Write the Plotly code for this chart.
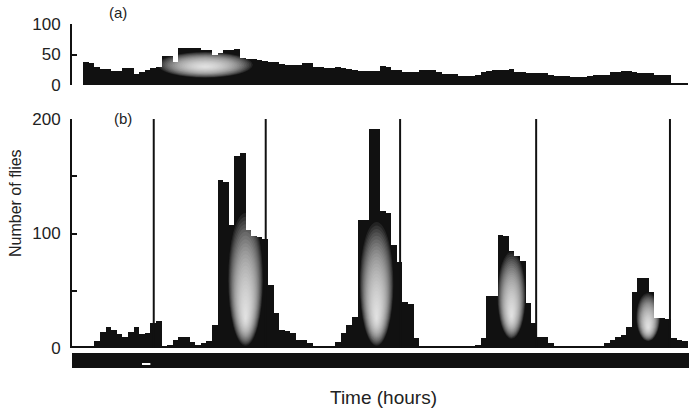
import plotly.graph_objects as go

# Hourly bins along the time axis (hours from start of recording)
hours = [h + 0.5 for h in range(110)]

# (a) flies counted per hour, control population
counts_a = [
    0, 0, 38, 36, 30, 27, 27, 23, 23, 28,
    28, 18, 22, 25, 28, 30, 48, 47, 38, 60,
    60, 61, 61, 57, 57, 50, 52, 58, 58, 59,
    45, 43, 43, 41, 39, 38, 37, 35, 33, 33,
    33, 36, 36, 30, 30, 28, 28, 30, 28, 27,
    25, 23, 23, 23, 23, 31, 30, 24, 24, 21,
    21, 21, 25, 25, 25, 22, 18, 18, 18, 15,
    15, 15, 16, 21, 23, 24, 24, 24, 27, 22,
    21, 20, 20, 20, 19, 16, 15, 15, 14, 13,
    13, 13, 14, 16, 16, 17, 21, 22, 23, 23,
    22, 20, 20, 20, 17, 16, 16, 4, 3, 3,
]

# (b) flies counted per hour, entrained population
counts_b = [
    1, 1, 1, 1, 6, 14, 18, 16, 12, 10,
    14, 18, 12, 13, 22, 24, 2, 3, 7, 10,
    10, 5, 3, 4, 6, 20, 147, 145, 107, 168,
    170, 103, 98, 97, 95, 55, 31, 16, 15, 13,
    7, 7, 4, 2, 1, 1, 2, 5, 13, 20,
    27, 112, 112, 191, 191, 120, 118, 90, 75, 40,
    38, 9, 1, 1, 1, 1, 1, 1, 1, 1,
    1, 1, 3, 9, 45, 45, 99, 98, 85, 80,
    76, 39, 22, 10, 10, 4, 2, 2, 2, 2,
    2, 2, 2, 2, 2, 4, 7, 10, 11, 18,
    49, 61, 61, 49, 26, 26, 25, 9, 7, 6,
]

# Vertical markers (hours) drawn over panel (b)
marker_hours = [14.6, 34.6, 58.6, 82.9, 106.8]

# Dark band under panel (b), in hours
band_hours = [0.0, 110.2]

x_range = [0, 110.2]
ink = "#111111"
text_col = "#222222"
font_family = "Liberation Sans, Arial, sans-serif"

fig = go.Figure()
fig.add_trace(go.Bar(x=hours, y=counts_a, width=1.0, marker=dict(color=ink, line=dict(width=0)),
                     xaxis="x", yaxis="y", showlegend=False))
fig.add_trace(go.Bar(x=hours, y=counts_b, width=1.0, marker=dict(color=ink, line=dict(width=0)),
                     xaxis="x2", yaxis="y2", showlegend=False))

shapes = []

# soft light patches inside the dense peaks (print sheen):
# outer ring is large and high, inner rings shrink toward a low bright core
glows = [
    # xref, yref, cx, cy_outer, cy_core, rx, ry
    ("x", "y", 23.8, 33, 30, 8.5, 21),
    ("x2", "y2", 31.0, 60, 26, 3.1, 58),
    ("x2", "y2", 54.4, 56, 26, 3.0, 54),
    ("x2", "y2", 78.5, 46, 28, 2.5, 38),
    ("x2", "y2", 102.9, 27, 18, 2.1, 21),
]
levels = 28
for xr, yr, cx, cy_out, cy_core, rx, ry in glows:
    for k in range(levels):
        f = 1.0 - k / levels
        cy = cy_out * f + cy_core * (1 - f)
        shapes.append(dict(type="circle", xref=xr, yref=yr,
                           x0=cx - rx * f, x1=cx + rx * f,
                           y0=cy - ry * f, y1=cy + ry * f,
                           fillcolor="white", opacity=0.08, line=dict(width=0)))

# vertical markers
for h in marker_hours:
    shapes.append(dict(type="line", xref="x2", yref="y2", x0=h, x1=h, y0=0, y1=200,
                       line=dict(color=ink, width=2)))

# dark band beneath panel (b)
shapes.append(dict(type="rect", xref="x2", yref="paper", x0=band_hours[0], x1=band_hours[1],
                   y0=1 - 368 / 409, y1=1 - 353 / 409, fillcolor=ink, line=dict(width=0)))
shapes.append(dict(type="line", xref="x2", yref="paper", x0=12.5, x1=14.0,
                   y0=1 - 364 / 409, y1=1 - 364 / 409, line=dict(color="white", width=2)))

axis_common = dict(showgrid=False, zeroline=False, ticks="inside", ticklen=5, tickwidth=2,
                   tickcolor=ink, showline=True, linecolor=ink, linewidth=2,
                   tickfont=dict(family=font_family, size=17, color=text_col),
                   ticklabelstandoff=6, automargin=False)

fig.update_layout(
    width=689, height=409, autosize=False,
    margin=dict(l=72, r=0, t=0, b=0, pad=0, autoexpand=False),
    paper_bgcolor="white", plot_bgcolor="white",
    bargap=0,
    shapes=shapes,
    xaxis=dict(domain=[0, 1], range=x_range, visible=False, anchor="y", automargin=False),
    xaxis2=dict(domain=[0, 1], range=x_range, visible=False, anchor="y2", automargin=False),
    yaxis=dict(domain=[1 - 85 / 409, 1 - 24 / 409], range=[0, 100],
               tickvals=[0, 50, 100], ticktext=["0", "50", "100"], anchor="x", **axis_common),
    yaxis2=dict(domain=[1 - 348 / 409, 1 - 119 / 409], range=[0, 200],
                tickvals=[0, 50, 100, 150, 200], ticktext=["0", "", "100", "", "200"],
                anchor="x2", **axis_common),
    annotations=[
        dict(text="(a)", x=(118 - 72) / 617, y=1 - 12 / 409, xref="paper", yref="paper",
             xanchor="center", yanchor="middle", showarrow=False,
             font=dict(family=font_family, size=15, color=text_col)),
        dict(text="(b)", x=(123 - 72) / 617, y=1 - 119 / 409, xref="paper", yref="paper",
             xanchor="center", yanchor="middle", showarrow=False,
             font=dict(family=font_family, size=15, color=text_col)),
        dict(text="Number of flies", x=(15 - 72) / 617, y=1 - 203 / 409, xref="paper",
             yref="paper", xanchor="center", yanchor="middle", textangle=-90, showarrow=False,
             font=dict(family=font_family, size=16, color=text_col)),
        dict(text="Time (hours)", x=(383 - 72) / 617, y=1 - 397 / 409, xref="paper",
             yref="paper", xanchor="center", yanchor="middle", showarrow=False,
             font=dict(family=font_family, size=19, color=text_col)),
    ],
)

fig.write_html("out.html", config={"responsive": False})
